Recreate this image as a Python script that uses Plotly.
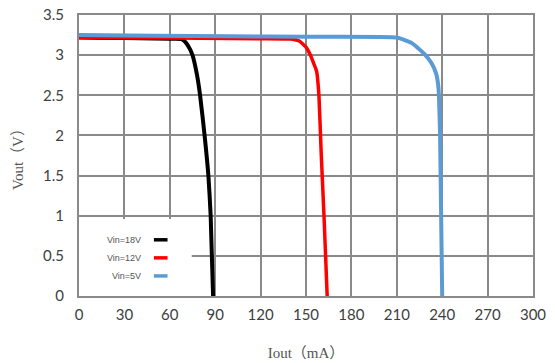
import plotly.graph_objects as go

# Output current (mA) and output voltage (V) for each input voltage
iout_18v = [0, 20, 40, 60, 68, 72, 75, 78, 80, 83, 85.5, 87, 88.6]
vout_18v = [3.22, 3.215, 3.21, 3.205, 3.2, 3.12, 3.0, 2.75, 2.5, 2.0, 1.5, 1.0, 0]

iout_12v = [0, 40, 80, 120, 140, 146, 150, 153, 155, 157, 158.6, 160, 162, 164]
vout_12v = [3.22, 3.215, 3.21, 3.205, 3.2, 3.17, 3.1, 3.0, 2.9, 2.8, 2.48, 1.8, 0.95, 0]

iout_5v = [0, 50, 100, 150, 210, 220, 228, 233, 236, 237.5, 238.6, 240]
vout_5v = [3.25, 3.24, 3.235, 3.23, 3.22, 3.15, 3.02, 2.9, 2.77, 2.6, 2.0, 0]

series_names = ["Vin=18V", "Vin=12V", "Vin=5V"]
series_colors = ["#000000", "#ff0000", "#5b9bd5"]

x_ticks = list(range(0, 301, 30))
y_ticks = [0, 0.5, 1, 1.5, 2, 2.5, 3, 3.5]
y_tick_text = ["0", "0.5", "1", "1.5", "2", "2.5", "3", "3.5"]

fig = go.Figure()
fig.add_trace(go.Scatter(x=iout_18v, y=vout_18v, mode="lines",
                         line=dict(color=series_colors[0], width=4, shape="spline", smoothing=0.5),
                         name=series_names[0]))
fig.add_trace(go.Scatter(x=iout_12v, y=vout_12v, mode="lines",
                         line=dict(color=series_colors[1], width=3.5, shape="spline", smoothing=0.4),
                         name=series_names[1]))
fig.add_trace(go.Scatter(x=iout_5v, y=vout_5v, mode="lines",
                         line=dict(color=series_colors[2], width=4, shape="spline", smoothing=0.4),
                         name=series_names[2]))

grid = "#8a8a8a"
tick_font = dict(family="Lato, Liberation Sans, sans-serif", size=15, color="#404040")
title_font = dict(family="Liberation Serif, Noto Sans CJK SC, serif", size=15, color="#555555")

fig.update_xaxes(range=[0, 300], tickvals=x_ticks, showgrid=True, gridcolor=grid, gridwidth=2,
                 showline=True, linecolor=grid, linewidth=2, mirror=True, zeroline=False,
                 ticks="", tickfont=tick_font, ticklabelstandoff=4, automargin=False,
                 title=dict(text="Iout（mA）", font=title_font, standoff=25))
fig.update_yaxes(range=[0, 3.5], tickvals=y_ticks, ticktext=y_tick_text, showgrid=True,
                 gridcolor=grid, gridwidth=2, showline=True, linecolor=grid, linewidth=2,
                 mirror=True, zeroline=False, ticks="", tickfont=tick_font, ticklabelstandoff=10,
                 automargin=False,
                 title=dict(text="Vout（V）", font=title_font, standoff=16))

# White legend panel over the grid in the lower-left corner
fig.add_shape(type="rect", xref="x", yref="y", x0=0, x1=74.5, y0=0, y1=0.96,
              fillcolor="white", line=dict(width=0), layer="between")

legend_y = [0.7, 0.475, 0.25]
for name, color, ly in zip(series_names, series_colors, legend_y):
    fig.add_annotation(x=42, y=ly, xref="x", yref="y", text=name, showarrow=False,
                       xanchor="right", yanchor="middle",
                       font=dict(family="Liberation Sans, sans-serif", size=9, color="#555555"))
    fig.add_shape(type="line", xref="x", yref="y", x0=49.5, x1=58.5, y0=ly, y1=ly,
                  line=dict(color=color, width=3.5), layer="above")

fig.update_layout(width=555, height=363, margin=dict(l=79, r=22, t=15, b=67),
                  plot_bgcolor="white", paper_bgcolor="white", showlegend=False)

fig.write_html("out.html")
